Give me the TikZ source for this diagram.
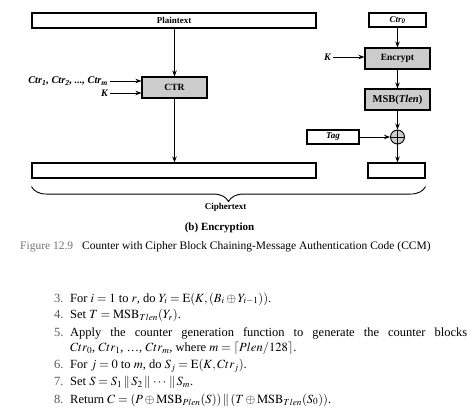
\documentclass[tikz,border=0pt]{standalone}
\usepackage{mathptmx}
\usepackage{fontspec}
\setmainfont{Liberation Serif}
\usetikzlibrary{arrows.meta, decorations.pathreplacing}

\tikzset{
  blk/.style={draw, line width=1.1pt, inner sep=0pt, font=\fontsize{9}{10}\selectfont\bfseries},
  gblk/.style={blk, fill=black!20, font=\fontsize{9.5}{11}\selectfont\bfseries},
  arr/.style={-{Stealth[length=6pt,width=4.5pt]}, line width=0.8pt},
  lbl/.style={inner sep=2pt, font=\fontsize{10}{11}\selectfont\bfseries\itshape},
  stepnum/.style={anchor=base west, inner sep=0pt, text=black!65, font=\fontsize{12.5}{15}\selectfont},
  steptxt/.style={anchor=base west, inner sep=0pt, font=\fontsize{12.5}{15}\selectfont}
}

\begin{document}
\begin{tikzpicture}[x=1pt, y=-1pt]
    \useasboundingbox (0,0) rectangle (474,420);

    % Left branch
    \node[blk, minimum width=284pt, minimum height=15pt] (plain) at (174,20.5) {Plaintext};
    \node[gblk, minimum width=65pt, minimum height=21pt] (ctr) at (174.5,87.5) {CTR};
    \node[lbl, anchor=east, font=\fontsize{10.3}{12}\selectfont\bfseries\itshape] (ctrs) at (110,81) {Ctr\textsubscript{1}, Ctr\textsubscript{2}, ..., Ctr\textsubscript{m}};
    \node[lbl, anchor=east] (kctr) at (110,93) {K};
    \node[blk, minimum width=284pt, minimum height=15pt] (cleft) at (174,170.5) {};

    % Right branch
    \node[blk, minimum width=57pt, minimum height=14pt, font=\fontsize{9}{10}\selectfont\bfseries\itshape] (ctrz) at (397.5,20) {Ctr\textsubscript{0}};
    \node[gblk, minimum width=65pt, minimum height=21pt] (enc) at (397.5,58.5) {Encrypt};
    \node[lbl, anchor=east] (kenc) at (333,57) {K};
    \node[gblk, minimum width=65pt, minimum height=21pt, font=\fontsize{10.5}{12}\selectfont\bfseries] (msb) at (397.5,99.5) {MSB(\textit{Tlen})};
    \node[draw, circle, line width=0.9pt, fill=black!20, minimum size=14pt, inner sep=0pt] (xor) at (397.5,137) {};
    \draw[line width=0.8pt] (xor.north) -- (xor.south) (xor.west) -- (xor.east);
    \node[blk, minimum width=52pt, minimum height=14pt, font=\fontsize{9}{10}\selectfont\bfseries\itshape] (tag) at (333,137) {Tag};
    \node[blk, minimum width=57pt, minimum height=15pt] (cright) at (396.5,170.5) {};

    % Arrows
    \draw[arr] (plain.south -| ctr.north) -- (ctr.north);
    \draw[arr] (ctrs.east) -- (ctrs.east -| ctr.west);
    \draw[arr] (kctr.east) -- (kctr.east -| ctr.west);
    \draw[arr] (ctr.south) -- (ctr.south |- cleft.north);
    \draw[arr] (ctrz) -- (enc);
    \draw[arr] (kenc.east) -- (kenc.east -| enc.west);
    \draw[arr] (enc) -- (msb);
    \draw[arr] (msb) -- (xor);
    \draw[arr] (tag) -- (xor);
    \draw[arr] (xor.south) -- (xor.south |- cright.north);

    % Brace and captions
    \draw[decorate, decoration={brace, mirror, amplitude=15pt}, line width=0.9pt]
        ([yshift=-8pt]cleft.south west) -- ([yshift=-8pt]cright.south east);
    \node[font=\fontsize{9}{10}\selectfont\bfseries] (ctext) at (225.5,207) {Ciphertext};
    \node[font=\fontsize{11}{13}\selectfont\bfseries] (sub) at (219.5,228) {(b) Encryption};
    \node[anchor=base west, inner sep=0pt, text=black!55, font=\fontsize{11.5}{13}\selectfont] (fig) at (20,249.5) {Figure 12.9};
    \node[anchor=base west, inner sep=0pt, font=\fontsize{11.5}{13}\selectfont] (cap) at (82,249.5) {Counter with Cipher Block Chaining-Message Authentication Code (CCM)};

    % Steps
    \node[stepnum] (n3) at (54,302) {3.};
    \node[steptxt] (s3) at (70,302) {For $i = 1$ to $r$, do $Y_i = \mathrm{E}(K, (B_i \oplus Y_{i-1}))$.};
    \node[stepnum] (n4) at (54,318.5) {4.};
    \node[steptxt] (s4) at (70,318.5) {Set $T = \mathrm{MSB}_{Tlen}(Y_r)$.};
    \node[stepnum] (n5) at (54,336) {5.};
    \node[steptxt] (s5) at (70,336) {\makebox[397pt][s]{Apply the counter generation function to generate the counter blocks}};
    \node[steptxt] (s5b) at (70,351.5) {$Ctr_0$, $Ctr_1$, \ldots, $Ctr_m$, where $m = \lceil Plen/128 \rceil$.};
    \node[stepnum] (n6) at (54,368.5) {6.};
    \node[steptxt] (s6) at (70,368.5) {For $j = 0$ to $m$, do $S_j = \mathrm{E}(K, Ctr_j)$.};
    \node[stepnum] (n7) at (54,385.5) {7.};
    \node[steptxt] (s7) at (70,385.5) {Set $S = S_1 \,\|\, S_2 \,\|\, \cdots \,\|\, S_m$.};
    \node[stepnum] (n8) at (54,403) {8.};
    \node[steptxt] (s8) at (70,403) {Return $C = (P \oplus \mathrm{MSB}_{Plen}(S)) \,\|\, (T \oplus \mathrm{MSB}_{Tlen}(S_0))$.};
\end{tikzpicture}
\end{document}
